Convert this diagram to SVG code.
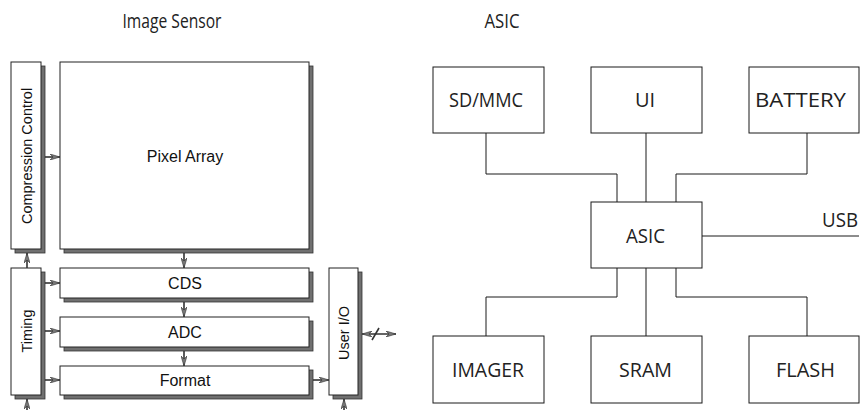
<svg xmlns="http://www.w3.org/2000/svg" width="865" height="410" viewBox="0 0 865 410">
  <style>
    .blk { fill: #fff; stroke: #222; stroke-width: 1; }
    .shd { fill: #707070; stroke: #333; stroke-width: 0.8; }
    .lbl { font-family: "Liberation Sans", Arial, sans-serif; font-size: 16px; fill: #111; text-anchor: middle; }
    .vlbl { font-family: "Liberation Sans", Arial, sans-serif; font-size: 14.5px; fill: #111; text-anchor: middle; }
    .ttl { font-family: "Open Sans", "Noto Sans", sans-serif; font-size: 20px; fill: #222; text-anchor: middle; }
    .box { fill: #fff; stroke: #1a1a1a; stroke-width: 1; }
    .wire { fill: none; stroke: #1a1a1a; stroke-width: 1; }
    .sig { fill: none; stroke: #333; stroke-width: 1.6; }
  </style>
  <defs>
    <marker id="ah" viewBox="0 0 10 6" refX="10" refY="3" markerWidth="10" markerHeight="6" markerUnits="userSpaceOnUse" orient="auto-start-reverse">
      <path d="M0,0 L10,3 L0,6 L3,3 z" fill="#777" stroke="#333" stroke-width="0.6"/>
    </marker>
  </defs>

  <!-- titles -->
  <text class="ttl" x="172" y="28" textLength="99" lengthAdjust="spacingAndGlyphs">Image Sensor</text>
  <text class="ttl" x="502" y="28" textLength="35" lengthAdjust="spacingAndGlyphs">ASIC</text>

  <!-- image sensor blocks -->
  <g id="compression-control">
    <rect class="shd" x="15" y="66" width="30" height="187"/>
    <rect class="blk" x="11" y="62" width="30" height="187"/>
    <text class="vlbl" transform="translate(31.5,156) rotate(-90)">Compression Control</text>
  </g>
  <g id="pixel-array">
    <rect class="shd" x="64" y="66" width="249" height="187"/>
    <rect class="blk" x="60" y="62" width="249" height="187"/>
    <text class="lbl" x="185" y="162">Pixel Array</text>
  </g>
  <g id="timing">
    <rect class="shd" x="15" y="272" width="30" height="127"/>
    <rect class="blk" x="11" y="268" width="30" height="127"/>
    <text class="vlbl" transform="translate(31.5,331) rotate(-90)">Timing</text>
  </g>
  <g id="cds">
    <rect class="shd" x="64" y="272" width="249" height="30"/>
    <rect class="blk" x="60" y="268" width="249" height="30"/>
    <text class="lbl" x="185" y="289">CDS</text>
  </g>
  <g id="adc">
    <rect class="shd" x="64" y="321" width="249" height="30"/>
    <rect class="blk" x="60" y="317" width="249" height="30"/>
    <text class="lbl" x="185" y="338">ADC</text>
  </g>
  <g id="format">
    <rect class="shd" x="64" y="370" width="249" height="29"/>
    <rect class="blk" x="60" y="366" width="249" height="29"/>
    <text class="lbl" x="185" y="386">Format</text>
  </g>
  <g id="user-io">
    <rect class="shd" x="333" y="272" width="29" height="127"/>
    <rect class="blk" x="329" y="268" width="29" height="127"/>
    <text class="vlbl" transform="translate(349,333) rotate(-90)">User I/O</text>
  </g>

  <!-- image sensor signal arrows -->
  <g id="sensor-connectors">
    <line class="sig" x1="45" y1="157" x2="60" y2="157" marker-end="url(#ah)"/>
    <line class="sig" x1="184" y1="253" x2="184" y2="268" marker-end="url(#ah)"/>
    <line class="sig" x1="184" y1="302" x2="184" y2="317" marker-end="url(#ah)"/>
    <line class="sig" x1="184" y1="351" x2="184" y2="366" marker-end="url(#ah)"/>
    <line class="sig" x1="27" y1="268" x2="27" y2="253" marker-end="url(#ah)"/>
    <line class="sig" x1="45" y1="283" x2="60" y2="283" marker-end="url(#ah)"/>
    <line class="sig" x1="45" y1="331" x2="60" y2="331" marker-end="url(#ah)"/>
    <line class="sig" x1="45" y1="380" x2="60" y2="380" marker-end="url(#ah)"/>
    <line class="sig" x1="313" y1="380" x2="329" y2="380" marker-end="url(#ah)"/>
    <line class="sig" x1="27" y1="410" x2="27" y2="399" marker-end="url(#ah)"/>
    <line class="sig" x1="344" y1="410" x2="344" y2="399" marker-end="url(#ah)"/>
    <line class="sig" x1="362" y1="334" x2="396" y2="334" marker-start="url(#ah)" marker-end="url(#ah)"/>
    <line class="sig" x1="372" y1="340" x2="379" y2="328" stroke-width="1.2"/>
  </g>

  <!-- ASIC system blocks -->
  <g id="sd-mmc">
    <rect class="box" x="433" y="67" width="111" height="66"/>
    <text class="ttl" x="486" y="107" textLength="74" lengthAdjust="spacingAndGlyphs">SD/MMC</text>
  </g>
  <g id="ui">
    <rect class="box" x="591" y="67" width="111" height="66"/>
    <text class="ttl" x="645" y="107">UI</text>
  </g>
  <g id="battery">
    <rect class="box" x="749" y="67" width="110" height="66"/>
    <text class="ttl" x="800.5" y="107" textLength="91" lengthAdjust="spacingAndGlyphs">BATTERY</text>
  </g>
  <g id="asic">
    <rect class="box" x="591" y="202" width="111" height="66"/>
    <text class="ttl" x="645.5" y="243" textLength="39" lengthAdjust="spacingAndGlyphs">ASIC</text>
  </g>
  <g id="imager">
    <rect class="box" x="433" y="336" width="111" height="67"/>
    <text class="ttl" x="488" y="377" textLength="72" lengthAdjust="spacingAndGlyphs">IMAGER</text>
  </g>
  <g id="sram">
    <rect class="box" x="591" y="336" width="111" height="67"/>
    <text class="ttl" x="645.5" y="377" textLength="53" lengthAdjust="spacingAndGlyphs">SRAM</text>
  </g>
  <g id="flash">
    <rect class="box" x="749" y="336" width="110" height="67"/>
    <text class="ttl" x="805.5" y="377" textLength="59" lengthAdjust="spacingAndGlyphs">FLASH</text>
  </g>

  <!-- ASIC bus wiring -->
  <g id="asic-connectors">
    <polyline class="wire" points="486,133 486,174 617,174 617,202"/>
    <line class="wire" x1="646" y1="133" x2="646" y2="202"/>
    <polyline class="wire" points="807,133 807,174 676,174 676,202"/>
    <polyline class="wire" points="617,268 617,297 486,297 486,336"/>
    <line class="wire" x1="646" y1="268" x2="646" y2="336"/>
    <polyline class="wire" points="676,268 676,297 807,297 807,336"/>
    <line class="wire" x1="702" y1="236" x2="859" y2="236"/>
    <text class="ttl" x="840" y="227" textLength="36" lengthAdjust="spacingAndGlyphs">USB</text>
  </g>
</svg>
